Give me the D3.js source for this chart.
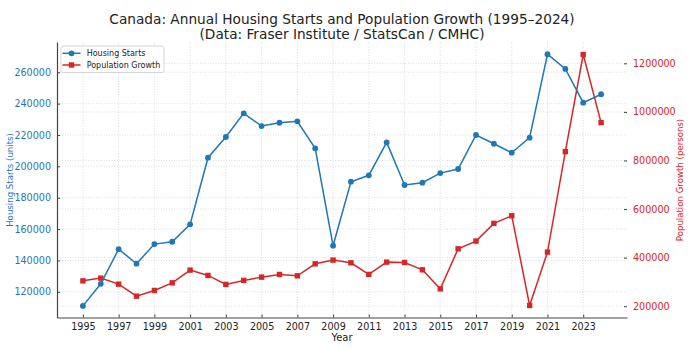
<!DOCTYPE html>
<html><head><meta charset="utf-8">
<script src="https://cdn.jsdelivr.net/npm/d3@7"></script>
<style>
body{margin:0;background:#fff;}
text{font-family:"DejaVu Sans",sans-serif;}
</style></head>
<body><svg id="c" width="690" height="349"></svg>
<script>
const years = d3.range(1995, 2025);
const housingStarts = [111000,125100,147200,137900,150400,151900,163000,205500,218700,233800,225700,227800,228700,211500,149400,190200,194300,215300,188100,189600,195700,198300,220000,214400,208700,218300,271500,262100,240600,246000];
const popGrowth = [304300,315500,290700,241200,264700,296100,348500,326600,289500,306000,319600,330700,325000,374400,389700,378600,330700,381400,380000,349700,271300,436300,468000,541000,572400,202900,422700,836300,1236300,955900];
const leftTicks = [120000,140000,160000,180000,200000,220000,240000,260000];
const rightTicks = [200000,400000,600000,800000,1000000,1200000];
const xTicks = [1995,1997,1999,2001,2003,2005,2007,2009,2011,2013,2015,2017,2019,2021,2023];
const titleLines = ["Canada: Annual Housing Starts and Population Growth (1995\u20132024)","(Data: Fraser Institute / StatsCan / CMHC)"];
const seriesNames = ["Housing Starts","Population Growth"];

const BLUE="#1f77b4", RED="#d62728";
const L=57, R=627, T=42, B=317.5;
const svg=d3.select("#c");
const x=d3.scaleLinear().domain([1993.55,2025.45]).range([L,R]);
const yL=d3.scaleLinear().domain([103600,279300]).range([B,T]);
const yR=d3.scaleLinear().domain([153400,1287800]).range([B,T]);

// grids
const g=svg.append("g");
const gridStyle=s=>s.attr("stroke","#d4d4d4").attr("stroke-width",0.8).attr("stroke-dasharray","1,1.6");
xTicks.forEach(t=>gridStyle(g.append("line").attr("x1",x(t)).attr("x2",x(t)).attr("y1",T).attr("y2",B)));
leftTicks.forEach(t=>gridStyle(g.append("line").attr("x1",L).attr("x2",R).attr("y1",yL(t)).attr("y2",yL(t))));
rightTicks.forEach(t=>gridStyle(g.append("line").attr("x1",L).attr("x2",R).attr("y1",yR(t)).attr("y2",yR(t))));

// axes
const axL=d3.axisLeft(yL).tickValues(leftTicks).tickFormat(d3.format("d")).tickSizeInner(-3).tickSizeOuter(0).tickPadding(6);
const gL=svg.append("g").attr("transform",`translate(${L},0)`).call(axL);
gL.select(".domain").attr("stroke","#444").attr("stroke-width",1.2);
gL.selectAll(".tick line").attr("stroke","#444");
gL.selectAll("text").attr("fill",BLUE).style("font-size","9.6px").style("font-family","DejaVu Sans");

const axR=d3.axisRight(yR).tickValues(rightTicks).tickFormat(d3.format("d")).tickSizeInner(-3).tickSizeOuter(0).tickPadding(6);
const gR=svg.append("g").attr("transform",`translate(${R},0)`).call(axR);
gR.select(".domain").remove();
gR.selectAll(".tick line").attr("stroke","#444");
gR.selectAll("text").attr("fill",RED).style("font-size","9.6px").style("font-family","DejaVu Sans");

const axB=d3.axisBottom(x).tickValues(xTicks).tickFormat(d3.format("d")).tickSizeInner(-3).tickSizeOuter(0).tickPadding(6);
const gB=svg.append("g").attr("transform",`translate(0,${B})`).call(axB);
gB.select(".domain").attr("stroke","#444").attr("stroke-width",1.2);
gB.selectAll(".tick line").attr("stroke","#444");
gB.selectAll("text").attr("fill","#222").style("font-size","9.6px").style("font-family","DejaVu Sans");

// lines
const lineL=d3.line().x((d,i)=>x(years[i])).y(d=>yL(d));
const lineR=d3.line().x((d,i)=>x(years[i])).y(d=>yR(d));
svg.append("path").datum(popGrowth).attr("d",lineR).attr("fill","none").attr("stroke",RED).attr("stroke-width",1.5);
svg.selectAll(".sq").data(popGrowth).enter().append("rect").attr("x",(d,i)=>x(years[i])-2.7).attr("y",d=>yR(d)-2.7).attr("width",5.4).attr("height",5.4).attr("fill",RED);
svg.append("path").datum(housingStarts).attr("d",lineL).attr("fill","none").attr("stroke",BLUE).attr("stroke-width",1.5);
svg.selectAll(".ci").data(housingStarts).enter().append("circle").attr("cx",(d,i)=>x(years[i])).attr("cy",d=>yL(d)).attr("r",2.9).attr("fill",BLUE);

// titles
svg.append("text").attr("x",(L+R)/2).attr("y",24).attr("text-anchor","middle").style("font-size","13.7px").attr("fill","#222").text(titleLines[0]);
svg.append("text").attr("x",(L+R)/2).attr("y",38.5).attr("text-anchor","middle").style("font-size","13.7px").attr("fill","#222").text(titleLines[1]);
svg.append("text").attr("x",(L+R)/2).attr("y",341).attr("text-anchor","middle").style("font-size","10px").attr("fill","#222").text("Year");
svg.append("text").attr("transform","translate(13,180) rotate(-90)").attr("text-anchor","middle").style("font-size","8.6px").attr("fill",BLUE).text("Housing Starts (units)");
svg.append("text").attr("transform","translate(683,180) rotate(-90)").attr("text-anchor","middle").style("font-size","8.6px").attr("fill",RED).text("Population Growth (persons)");

// legend
const lg=svg.append("g");
lg.append("rect").attr("x",61).attr("y",46).attr("width",103).attr("height",26.5).attr("rx",2).attr("fill","#fff").attr("fill-opacity",0.8).attr("stroke","#ccc").attr("stroke-width",0.8);
[[BLUE,"c"],[RED,"s"]].forEach((d,i)=>{
  const yy=53.3+i*11.7;
  lg.append("line").attr("x1",62.5).attr("x2",80.5).attr("y1",yy).attr("y2",yy).attr("stroke",d[0]).attr("stroke-width",1.5);
  if(d[1]==="c") lg.append("circle").attr("cx",71.5).attr("cy",yy).attr("r",2.9).attr("fill",d[0]);
  else lg.append("rect").attr("x",68.8).attr("y",yy-2.7).attr("width",5.4).attr("height",5.4).attr("fill",d[0]);
  lg.append("text").attr("x",86.7).attr("y",yy+2.9).style("font-size","8px").attr("fill","#222").text(seriesNames[i]);
});
</script></body></html>
